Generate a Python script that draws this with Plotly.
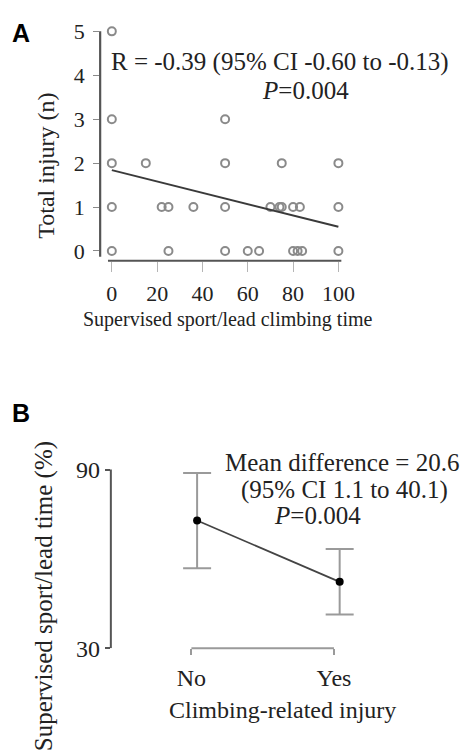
import plotly.graph_objects as go

W, H = 471, 753
SERIF = "Liberation Serif"

# ---- Panel A: injuries vs supervised sport/lead climbing time ----
climb_time = [0,
              0, 50,
              0, 15, 50, 75, 100,
              0, 22, 25, 36, 50, 70, 74, 75, 80, 83, 100,
              0, 25, 50, 60, 65, 80, 82, 84, 100]
total_injury = [5,
                3, 3,
                2, 2, 2, 2, 2,
                1, 1, 1, 1, 1, 1, 1, 1, 1, 1, 1,
                0, 0, 0, 0, 0, 0, 0, 0, 0]
fit_x = [0, 100]
fit_y = [1.84, 0.55]
a_xticks = [0, 20, 40, 60, 80, 100]
a_yticks = [0, 1, 2, 3, 4, 5]

# ---- Panel B: supervised time by injury status ----
groups = ["No", "Yes"]
group_pos = [0, 1]
group_mean = [72.9, 52.3]
group_ci = [16.0, 11.0]
b_yticks = [30, 90]
LABEL_SHIFT = 0.04  # category labels sit slightly left of the markers


def px(x):
    return x / W


def py(y):
    return 1 - y / H


fig = go.Figure()

fig.add_trace(go.Scatter(
    x=climb_time, y=total_injury, mode="markers",
    marker=dict(symbol="circle-open", size=8, color="#8a8a8a",
                line=dict(width=2, color="#8a8a8a")),
    cliponaxis=False, xaxis="x", yaxis="y", showlegend=False))
fig.add_trace(go.Scatter(
    x=fit_x, y=fit_y, mode="lines",
    line=dict(color="#3a3a3a", width=2),
    cliponaxis=False, xaxis="x", yaxis="y", showlegend=False))

fig.add_trace(go.Scatter(
    x=group_pos, y=group_mean, mode="lines+markers",
    line=dict(color="#444444", width=1.8),
    marker=dict(size=8, color="black"),
    error_y=dict(type="data", array=group_ci, visible=True,
                 color="#9a9a9a", thickness=2, width=14),
    cliponaxis=False, xaxis="x2", yaxis="y2", showlegend=False))

a_x0, a_x1 = 103, 352
a_y0, a_y1 = 20, 262
ax_scale = (348 - 115) / 100.0
ay_scale = 45.0

b_x0 = 114
b_y0, b_y1 = 440, 659
bx_scale = 146.6
by_scale = (659 - 476) / 60.0

fig.update_layout(
    width=W, height=H,
    margin=dict(l=0, r=0, t=0, b=0),
    paper_bgcolor="white", plot_bgcolor="white",
    font=dict(family=SERIF, color="#222222", size=22),
    xaxis=dict(
        domain=[px(a_x0), px(a_x1)],
        range=[(a_x0 - 115) / ax_scale, (a_x1 - 115) / ax_scale],
        tickvals=a_xticks, ticks="outside", ticklen=10, tickwidth=1,
        tickcolor="#b5b5b5", showline=False, showgrid=False, zeroline=False,
        ticklabelstandoff=3, tickfont=dict(size=22, family=SERIF),
        anchor="y"),
    yaxis=dict(
        domain=[py(a_y1), py(a_y0)],
        range=[(252 - a_y1) / ay_scale, (252 - a_y0) / ay_scale],
        tickvals=a_yticks, ticks="outside", ticklen=6, tickwidth=1,
        tickcolor="#8a8a8a", showline=False, showgrid=False, zeroline=False,
        ticklabelstandoff=4, tickfont=dict(size=22, family=SERIF),
        anchor="x"),
    xaxis2=dict(
        domain=[px(b_x0), 1],
        range=[(b_x0 - 202.7) / bx_scale, (W - 202.7) / bx_scale],
        tickvals=[p - LABEL_SHIFT for p in group_pos], ticktext=groups,
        ticks="outside", ticklen=6, tickwidth=1.5, tickcolor="#9a9a9a",
        showline=False, showgrid=False, zeroline=False,
        ticklabelstandoff=2, tickfont=dict(size=24, family=SERIF),
        anchor="y2"),
    yaxis2=dict(
        domain=[py(b_y1), py(b_y0)],
        range=[90 - (b_y1 - 476) / by_scale, 90 + (476 - b_y0) / by_scale],
        tickvals=b_yticks, ticks="outside", ticklen=5, tickwidth=1.5,
        tickcolor="#555555", showline=False, showgrid=False, zeroline=False,
        ticklabelstandoff=0, tickfont=dict(size=24, family=SERIF),
        anchor="x2"),
)

# axis lines
fig.add_shape(type="line", xref="x domain", yref="y", x0=0, x1=0,
              y0=5, y1=-0.13, line=dict(color="#555555", width=2.2))
fig.add_shape(type="line", xref="x", yref="y domain", x0=-1.7, x1=101.3,
              y0=0, y1=0, line=dict(color="#555555", width=2.2))
fig.add_shape(type="line", xref="x2 domain", yref="y2", x0=0, x1=0,
              y0=30, y1=90, line=dict(color="#555555", width=2))
fig.add_shape(type="line", xref="x2", yref="y2 domain",
              x0=group_pos[0] - LABEL_SHIFT, x1=group_pos[1] - LABEL_SHIFT,
              y0=0, y1=0, line=dict(color="#9a9a9a", width=2))


def note(text, x, y, size, angle=0, family=SERIF, color="#222222"):
    fig.add_annotation(text=text, x=px(x), y=py(y), xref="paper",
                       yref="paper", xanchor="center", yanchor="middle",
                       showarrow=False, textangle=angle,
                       font=dict(size=size, family=family, color=color))


# panel letters
note("<b>A</b>", 22, 29, 25, family="Liberation Sans", color="black")
note("<b>B</b>", 22, 418, 25, family="Liberation Sans", color="black")

# panel A texts
note("R = -0.39 (95% CI -0.60 to -0.13)", 288, 58, 25)
note("<i>P</i>=0.004", 314, 88, 25)
note("Total injury (n)", 47, 165, 24, angle=-90)
note("Supervised sport/lead climbing time", 234, 322, 20)

# panel B texts
note("Mean difference = 20.6", 352, 469, 25)
note("(95% CI 1.1 to 40.1)", 354, 497, 25)
note("<i>P</i>=0.004", 326, 523, 25)
note("Supervised sport/lead time (%)", 45, 606, 25, angle=-90)
note("Climbing-related injury", 291, 722, 24)

fig.write_html("out.html")
